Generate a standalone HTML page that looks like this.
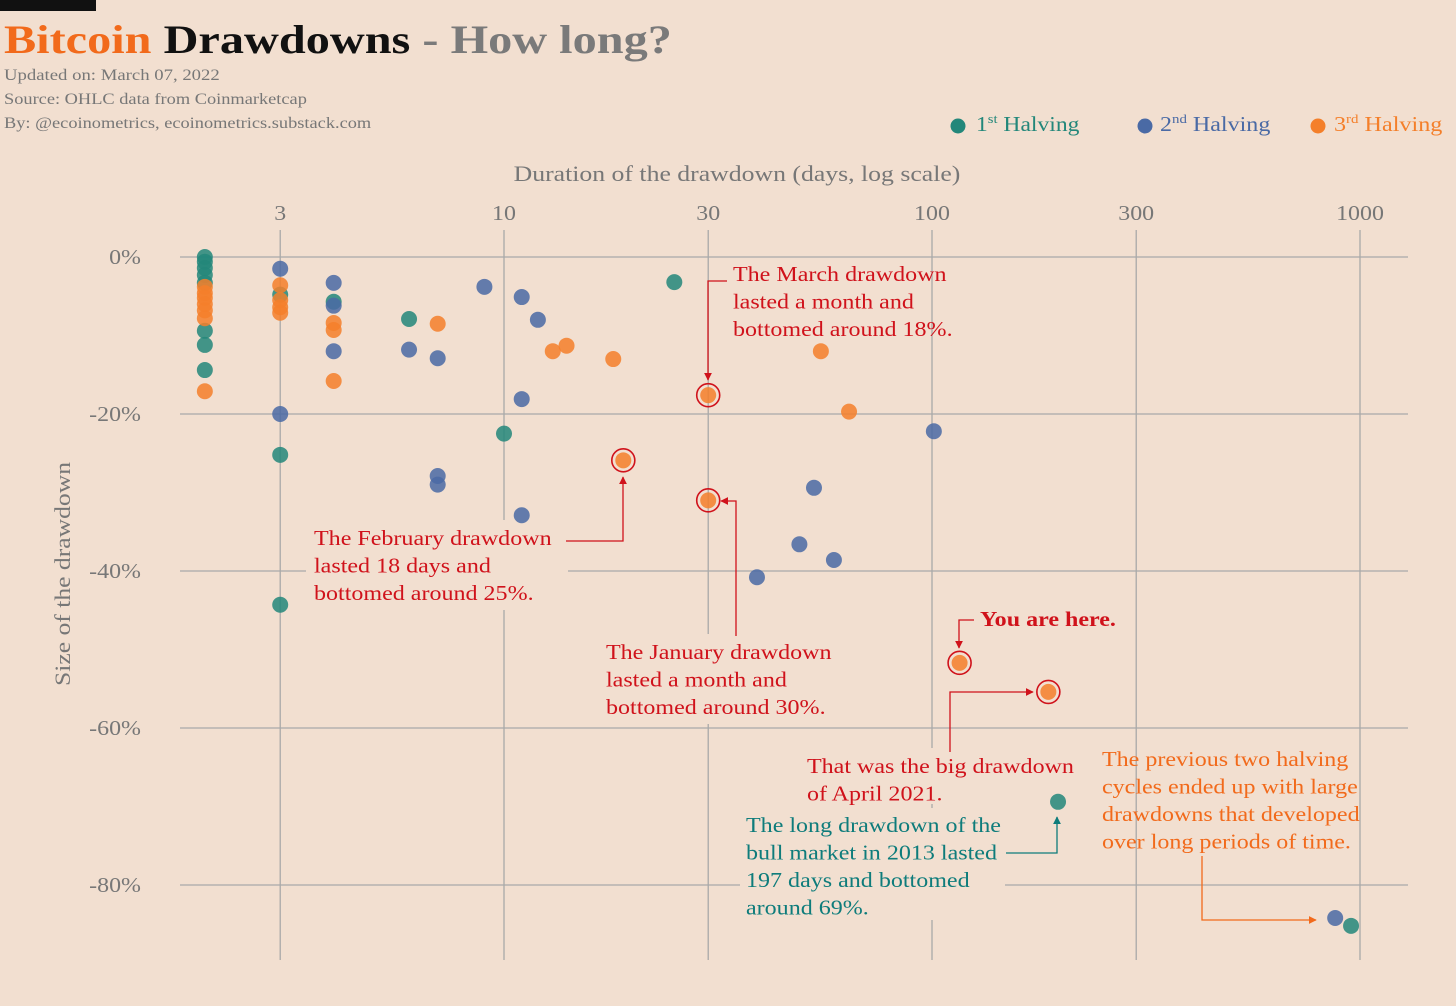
<!DOCTYPE html>
<html><head><meta charset="utf-8"><style>
body{margin:0;background:#f2dfd0;}
svg{display:block;font-family:"Liberation Serif",serif;}
</style></head><body>
<svg id="c" width="1456" height="1006" viewBox="0 0 1456 1006">
<rect width="1456" height="1006" fill="#f2dfd0"/>
<rect x="0" y="0" width="96" height="11" fill="#111"/>
<text class="st" data-w="668" x="4" y="53" font-size="40" font-weight="bold"><tspan fill="#f26a1b">Bitcoin</tspan><tspan fill="#111"> Drawdowns</tspan><tspan fill="#7a7a7a"> - How long?</tspan></text>
<text class="st" data-w="216" x="4" y="80" font-size="16" fill="#777">Updated on: March 07, 2022</text>
<text class="st" data-w="303" x="4" y="104" font-size="16" fill="#777">Source: OHLC data from Coinmarketcap</text>
<text class="st" data-w="368" x="4" y="128" font-size="16" fill="#777">By: @ecoinometrics, ecoinometrics.substack.com</text>
<g>
<circle cx="958" cy="126" r="7.5" fill="#23877a"/>
<text class="st" data-w="104" x="976" y="131" font-size="21" fill="#23877a">1<tspan font-size="13" dy="-8">st</tspan><tspan dy="8"> Halving</tspan></text>
<circle cx="1145" cy="126" r="7.5" fill="#4a6aa5"/>
<text class="st" data-w="111" x="1160" y="131" font-size="21" fill="#4a6aa5">2<tspan font-size="13" dy="-8">nd</tspan><tspan dy="8"> Halving</tspan></text>
<circle cx="1318" cy="126" r="7.5" fill="#f47f2a"/>
<text class="st" data-w="109" x="1334" y="131" font-size="21" fill="#f47f2a">3<tspan font-size="13" dy="-8">rd</tspan><tspan dy="8"> Halving</tspan></text>
</g>
<text class="st" data-w="447" x="737" y="181" font-size="22" fill="#777" text-anchor="middle">Duration of the drawdown (days, log scale)</text>
<text transform="translate(70,574) rotate(-90)" font-size="22" fill="#777" text-anchor="middle" textLength="224" lengthAdjust="spacingAndGlyphs">Size of the drawdown</text>
<g id="grid"></g>
<g id="bgs"></g>
<g id="pts"></g>
<g id="ann" font-size="21">
<text class="sa" x="733" y="281" fill="#d0121b"><tspan x="733">The March drawdown</tspan><tspan x="733" dy="27.5">lasted a month and</tspan><tspan x="733" dy="27.5">bottomed around 18%.</tspan></text>
<polyline points="727,281 708,281 708,380" fill="none" stroke="#d0121b" stroke-width="1.3" marker-end="url(#ar)"/>
<text class="sa" x="314" y="545" fill="#d0121b"><tspan x="314">The February drawdown</tspan><tspan x="314" dy="27.5">lasted 18 days and</tspan><tspan x="314" dy="27.5">bottomed around 25%.</tspan></text>
<polyline points="566,541 623,541 623,477" fill="none" stroke="#d0121b" stroke-width="1.3" marker-end="url(#ar)"/>
<text class="sa" x="606" y="659" fill="#d0121b"><tspan x="606">The January drawdown</tspan><tspan x="606" dy="27.5">lasted a month and</tspan><tspan x="606" dy="27.5">bottomed around 30%.</tspan></text>
<polyline points="736,636 736,501 721,501" fill="none" stroke="#d0121b" stroke-width="1.3" marker-end="url(#ar)"/>
<text class="sa" x="980" y="626" fill="#d0121b" font-weight="bold">You are here.</text>
<polyline points="974,620 959,620 959,648" fill="none" stroke="#d0121b" stroke-width="1.3" marker-end="url(#ar)"/>
<text class="sa" x="807" y="773" fill="#d0121b"><tspan x="807">That was the big drawdown</tspan><tspan x="807" dy="27.5">of April 2021.</tspan></text>
<polyline points="950,752 950,692 1033,692" fill="none" stroke="#d0121b" stroke-width="1.3" marker-end="url(#ar)"/>
<text class="sa" x="746" y="832" fill="#0e7c7b"><tspan x="746">The long drawdown of the</tspan><tspan x="746" dy="27.5">bull market in 2013 lasted</tspan><tspan x="746" dy="27.5">197 days and bottomed</tspan><tspan x="746" dy="27.5">around 69%.</tspan></text>
<polyline points="1006,853 1057,853 1057,817" fill="none" stroke="#0e7c7b" stroke-width="1.3" marker-end="url(#at)"/>
<text class="sa" x="1102" y="766" fill="#f26a1b"><tspan x="1102">The previous two halving</tspan><tspan x="1102" dy="27.5">cycles ended up with large</tspan><tspan x="1102" dy="27.5">drawdowns that developed</tspan><tspan x="1102" dy="27.5">over long periods of time.</tspan></text>
<polyline points="1202,856 1202,920 1316,920" fill="none" stroke="#f26a1b" stroke-width="1.3" marker-end="url(#ao)"/>
</g>
<defs><marker id="ar" viewBox="0 0 10 10" refX="9" refY="5" markerWidth="6" markerHeight="6" orient="auto"><path d="M0,0L10,5L0,10z" fill="#d0121b"/></marker>
<marker id="at" viewBox="0 0 10 10" refX="9" refY="5" markerWidth="6" markerHeight="6" orient="auto"><path d="M0,0L10,5L0,10z" fill="#0e7c7b"/></marker>
<marker id="ao" viewBox="0 0 10 10" refX="9" refY="5" markerWidth="6" markerHeight="6" orient="auto"><path d="M0,0L10,5L0,10z" fill="#f26a1b"/></marker></defs>
</svg>
<script>
const xTicks=[3,10,30,100,300,1000];
const yTicks=[0,-20,-40,-60,-80];
const h1Days=[2,2,2,2,2,2,2,2,3,3,3,4,6,10,25,197,953];
const h1Size=[0,-0.6,-1.4,-2.3,-3.3,-9.4,-11.2,-14.4,-4.8,-25.2,-44.3,-5.7,-7.9,-22.5,-3.2,-69.4,-85.2];
const h2Days=[3,3,4,4,4,6,7,7,7,9,11,11,11,12,39,49,53,59,101,875];
const h2Size=[-1.5,-20,-3.3,-6.2,-12,-11.8,-12.9,-27.9,-29,-3.8,-5.1,-18.1,-32.9,-8,-40.8,-36.6,-29.4,-38.6,-22.2,-84.2];
const h3Days=[2,2,2,2,2,2,2,3,3,3,3,4,4,4,7,13,14,18,19,30,30,55,64,116,187];
const h3Size=[-3.8,-4.6,-5.2,-6,-6.8,-7.8,-17.1,-3.6,-5.5,-6.4,-7.1,-8.4,-9.3,-15.8,-8.5,-12,-11.3,-13,-25.9,-17.6,-31,-12,-19.7,-51.7,-55.4];
const h3Highlight=[18,19,20,23,24];
const NS='http://www.w3.org/2000/svg';
const X=d=>504+428*(Math.log10(d)-1);
const Y=v=>257-7.85*v;
function mk(tag,attrs,parent){const e=document.createElementNS(NS,tag);for(const k in attrs)e.setAttribute(k,attrs[k]);parent.appendChild(e);return e;}
function stretch(el,f){const b=el.getBBox();const mid=el.getAttribute('text-anchor')==='middle';const cx=mid?b.x+b.width/2:b.x;el.setAttribute('transform','translate('+cx+',0) scale('+f+',1) translate('+(-cx)+',0)');}
const grid=document.getElementById('grid');
yTicks.forEach(v=>{
 const l=mk('line',{x1:180,x2:1408,y1:Y(v),y2:Y(v),stroke:'#a9a9a9','stroke-width':1.3},grid);
 
 
 const t=mk('text',{x:141,y:Y(v)+7,'font-size':21,fill:'#777','text-anchor':'end'},grid);
 t.textContent=v+'%';
 
 
 const b=t.getBBox();t.setAttribute('transform','translate('+(b.x+b.width)+',0) scale(1.14,1) translate('+(-(b.x+b.width))+',0)');
});
xTicks.forEach(d=>{
 const l=mk('line',{x1:X(d),x2:X(d),y1:230,y2:960,stroke:'#a9a9a9','stroke-width':1.3},grid);
 
 
 const t=mk('text',{x:X(d),y:220,'font-size':21,fill:'#777','text-anchor':'middle'},grid);
 t.textContent=d;
 
 
 stretch(t,1.14);
});
const bgs=document.getElementById('bgs');
[[306,520,262,90],[598,634,244,90],[740,808,265,112],[800,748,278,56]].forEach(r=>{
 const e=mk('rect',{x:r[0],y:r[1],width:r[2],height:r[3],fill:'#f2dfd0'},bgs);
 
 
});
const pts=document.getElementById('pts');
function series(days,size,col,name){
 days.forEach((d,i)=>{
  const c=mk('circle',{cx:X(d),cy:Y(size[i]),r:8,fill:col,'fill-opacity':0.85},pts);
  
  
 });
}
series(h1Days,h1Size,'#23877a','point-1st-halving');
series(h2Days,h2Size,'#4a6aa5','point-2nd-halving');
series(h3Days,h3Size,'#f47f2a','point-3rd-halving');
h3Highlight.forEach(i=>{
 const c=mk('circle',{cx:X(h3Days[i]),cy:Y(h3Size[i]),r:11.5,fill:'none',stroke:'#d0121b','stroke-width':1.6},pts);
 
 
});
document.querySelectorAll('.st').forEach(el=>{const w=+el.getAttribute('data-w');stretch(el,w/el.getBBox().width);});
document.querySelectorAll('.sa').forEach(el=>stretch(el,1.145));
</script>
</body></html>
